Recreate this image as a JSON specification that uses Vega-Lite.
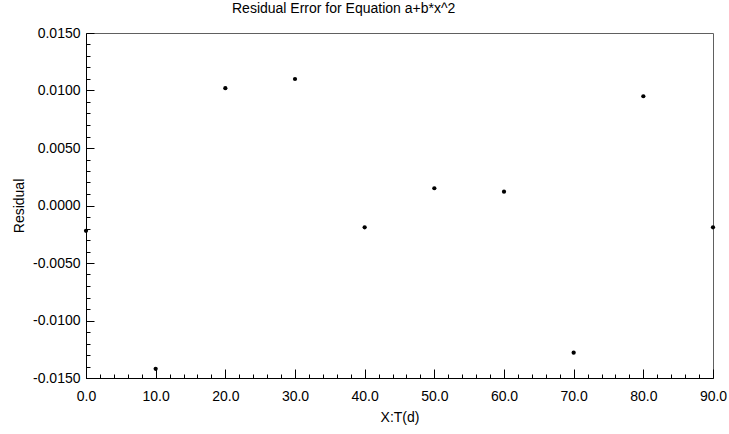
{
  "$schema": "https://vega.github.io/schema/vega-lite/v6.json",
  "width": 627,
  "height": 345,
  "autosize": {"type": "none"},
  "padding": {"left": 86, "top": 33, "right": 16, "bottom": 56},
  "background": "white",
  "title": {
    "text": "Residual Error for Equation a+b*x^2",
    "anchor": "start",
    "frame": "group",
    "dx": 146,
    "offset": 10,
    "font": "Liberation Sans",
    "fontSize": 14,
    "fontWeight": "normal",
    "color": "black"
  },
  "config": {
    "view": {"stroke": "#606060", "strokeWidth": 1},
    "axis": {
      "labelFont": "Liberation Sans",
      "titleFont": "Liberation Sans",
      "labelFontSize": 14,
      "titleFontSize": 14,
      "titleFontWeight": "normal",
      "labelColor": "black",
      "titleColor": "black",
      "grid": false,
      "domainColor": "black",
      "tickColor": "black",
      "labelFlush": false,
      "labelOverlap": false,
      "labelBound": false
    }
  },
  "data": {
    "values": [
      {"x": 0, "r": -0.0022},
      {"x": 10, "r": -0.0142},
      {"x": 20, "r": 0.0102},
      {"x": 30, "r": 0.0110},
      {"x": 40, "r": -0.0019},
      {"x": 50, "r": 0.0015},
      {"x": 60, "r": 0.0012},
      {"x": 70, "r": -0.0128},
      {"x": 80, "r": 0.0095},
      {"x": 90, "r": -0.0019}
    ]
  },
  "resolve": {"axis": {"x": "independent", "y": "independent"}},
  "layer": [
    {
      "mark": {"type": "point", "filled": true, "color": "black", "size": 18, "opacity": 0},
      "encoding": {
        "x": {
          "field": "x", "type": "quantitative",
          "scale": {"domain": [0, 90], "nice": false, "zero": false},
          "axis": {"orient": "bottom", "values": [0,2,4,6,8,12,14,16,18,22,24,26,28,32,34,36,38,42,44,46,48,52,54,56,58,62,64,66,68,72,74,76,78,82,84,86,88], "labels": false, "domain": false, "title": null, "tickSize": -4}
        },
        "y": {
          "field": "r", "type": "quantitative",
          "scale": {"domain": [-0.015, 0.015], "nice": false, "zero": false},
          "axis": {"orient": "left", "values": [-0.014,-0.013,-0.012,-0.011,-0.009,-0.008,-0.007,-0.006,-0.004,-0.003,-0.002,-0.001,0.001,0.002,0.003,0.004,0.006,0.007,0.008,0.009,0.011,0.012,0.013,0.014], "labels": false, "domain": false, "title": null, "tickSize": -4}
        }
      }
    },
    {
      "mark": {"type": "point", "filled": true, "color": "black", "size": 18, "opacity": 1},
      "encoding": {
        "x": {
          "field": "x", "type": "quantitative",
          "axis": {"orient": "bottom", "values": [0,10,20,30,40,50,60,70,80,90], "format": ".1f", "tickSize": -9, "labelPadding": 20, "title": "X:T(d)", "titlePadding": 7}
        },
        "y": {
          "field": "r", "type": "quantitative",
          "axis": {"orient": "left", "values": [-0.015,-0.01,-0.005,0,0.005,0.01,0.015], "labelExpr": "replace(format(datum.value,'.4f'),'−','-')", "tickSize": -8, "labelPadding": 14, "title": "Residual", "titlePadding": 6}
        }
      }
    }
  ]
}
